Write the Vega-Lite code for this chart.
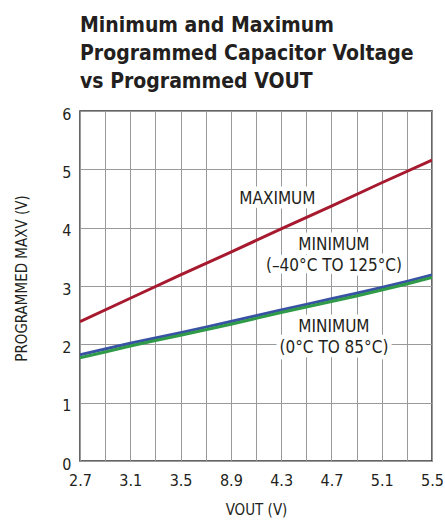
{
  "$schema": "https://vega.github.io/schema/vega-lite/v6.json",
  "autosize": "none",
  "width": 352,
  "height": 350,
  "padding": {"left": 80, "top": 111, "right": 13, "bottom": 62},
  "background": "white",
  "title": {
    "text": ["Minimum and Maximum", "Programmed Capacitor Voltage", "vs Programmed VOUT"],
    "font": "DejaVu Sans Condensed",
    "fontWeight": "bold",
    "fontSize": 21,
    "lineHeight": 28,
    "anchor": "start",
    "frame": "group",
    "color": "#231f20",
    "offset": 14
  },
  "config": {
    "view": {"stroke": "#333333", "strokeWidth": 1.5},
    "axis": {
      "labelFont": "DejaVu Sans Condensed",
      "titleFont": "DejaVu Sans Condensed",
      "labelColor": "#231f20",
      "titleColor": "#231f20",
      "labelFontSize": 16,
      "titleFontSize": 15,
      "titleFontWeight": "normal",
      "ticks": false,
      "domain": false,
      "gridColor": "#999999",
      "gridOpacity": 1,
      "gridWidth": 1
    }
  },
  "datasets": {
    "curves": [
      {"vout": 2.7, "v": 2.39, "series": "MAX"},
      {"vout": 3.1, "v": 2.79, "series": "MAX"},
      {"vout": 3.5, "v": 3.19, "series": "MAX"},
      {"vout": 3.9, "v": 3.58, "series": "MAX"},
      {"vout": 4.3, "v": 3.98, "series": "MAX"},
      {"vout": 4.7, "v": 4.37, "series": "MAX"},
      {"vout": 5.1, "v": 4.77, "series": "MAX"},
      {"vout": 5.5, "v": 5.16, "series": "MAX"},
      {"vout": 2.7, "v": 1.82, "series": "MIN -40C TO 125C"},
      {"vout": 2.9, "v": 1.92, "series": "MIN -40C TO 125C"},
      {"vout": 3.1, "v": 2.02, "series": "MIN -40C TO 125C"},
      {"vout": 3.3, "v": 2.11, "series": "MIN -40C TO 125C"},
      {"vout": 3.5, "v": 2.2, "series": "MIN -40C TO 125C"},
      {"vout": 3.7, "v": 2.295, "series": "MIN -40C TO 125C"},
      {"vout": 3.9, "v": 2.39, "series": "MIN -40C TO 125C"},
      {"vout": 4.1, "v": 2.49, "series": "MIN -40C TO 125C"},
      {"vout": 4.3, "v": 2.59, "series": "MIN -40C TO 125C"},
      {"vout": 4.5, "v": 2.685, "series": "MIN -40C TO 125C"},
      {"vout": 4.7, "v": 2.78, "series": "MIN -40C TO 125C"},
      {"vout": 4.9, "v": 2.875, "series": "MIN -40C TO 125C"},
      {"vout": 5.1, "v": 2.975, "series": "MIN -40C TO 125C"},
      {"vout": 5.3, "v": 3.08, "series": "MIN -40C TO 125C"},
      {"vout": 5.5, "v": 3.19, "series": "MIN -40C TO 125C"},
      {"vout": 2.7, "v": 1.77, "series": "MIN 0C TO 85C"},
      {"vout": 2.9, "v": 1.87, "series": "MIN 0C TO 85C"},
      {"vout": 3.1, "v": 1.97, "series": "MIN 0C TO 85C"},
      {"vout": 3.3, "v": 2.065, "series": "MIN 0C TO 85C"},
      {"vout": 3.5, "v": 2.155, "series": "MIN 0C TO 85C"},
      {"vout": 3.7, "v": 2.25, "series": "MIN 0C TO 85C"},
      {"vout": 3.9, "v": 2.345, "series": "MIN 0C TO 85C"},
      {"vout": 4.1, "v": 2.445, "series": "MIN 0C TO 85C"},
      {"vout": 4.3, "v": 2.545, "series": "MIN 0C TO 85C"},
      {"vout": 4.5, "v": 2.64, "series": "MIN 0C TO 85C"},
      {"vout": 4.7, "v": 2.735, "series": "MIN 0C TO 85C"},
      {"vout": 4.9, "v": 2.83, "series": "MIN 0C TO 85C"},
      {"vout": 5.1, "v": 2.93, "series": "MIN 0C TO 85C"},
      {"vout": 5.3, "v": 3.035, "series": "MIN 0C TO 85C"},
      {"vout": 5.5, "v": 3.145, "series": "MIN 0C TO 85C"}
    ],
    "labels": [
      {"vout": 4.27, "v": 4.5, "label": "MAXIMUM"},
      {"vout": 4.72, "v": 3.71, "label": "MINIMUM"},
      {"vout": 4.72, "v": 3.34, "label": "(–40°C TO 125°C)"},
      {"vout": 4.72, "v": 2.29, "label": "MINIMUM"},
      {"vout": 4.72, "v": 1.94, "label": "(0°C TO 85°C)"}
    ]
  },
  "encoding": {
    "x": {
      "field": "vout",
      "type": "quantitative",
      "scale": {"domain": [2.7, 5.5], "nice": false, "zero": false},
      "axis": {
        "title": "VOUT (V)",
        "values": [2.7, 2.9, 3.1, 3.3, 3.5, 3.7, 3.9, 4.1, 4.3, 4.5, 4.7, 4.9, 5.1, 5.3, 5.5],
        "labelExpr": "round((datum.value - 2.7) / 0.2) % 2 == 1 ? '' : (abs(datum.value - 3.9) < 0.01 ? '8.9' : format(datum.value, '.1f'))",
        "labelPadding": 11,
        "labelFlush": false,
        "labelOverlap": false,
        "titlePadding": 14
      }
    },
    "y": {
      "field": "v",
      "type": "quantitative",
      "scale": {"domain": [0, 6], "nice": false},
      "axis": {
        "title": "PROGRAMMED MAXV (V)",
        "values": [0, 1, 2, 3, 4, 5, 6],
        "labelPadding": 9,
        "labelOffset": 3,
        "labelFlush": false,
        "titlePadding": 32,
        "titleY": 167
      }
    }
  },
  "layer": [
    {
      "data": {"name": "curves"},
      "mark": {"type": "line", "strokeWidth": 3, "clip": true},
      "encoding": {
        "color": {
          "field": "series",
          "type": "nominal",
          "scale": {
            "domain": ["MAX", "MIN -40C TO 125C", "MIN 0C TO 85C"],
            "range": ["#a6192e", "#3953a4", "#2f9a48"]
          },
          "legend": null
        },
        "order": {"field": "series"}
      }
    },
    {
      "data": {"name": "labels"},
      "mark": {
        "type": "text",
        "font": "DejaVu Sans Condensed",
        "fontSize": 17,
        "stroke": "white",
        "strokeWidth": 9,
        "strokeJoin": "round",
        "fill": "white",
        "baseline": "middle",
        "align": "center"
      },
      "encoding": {"text": {"field": "label"}}
    },
    {
      "data": {"name": "labels"},
      "mark": {
        "type": "text",
        "font": "DejaVu Sans Condensed",
        "fontSize": 17,
        "fill": "#231f20",
        "baseline": "middle",
        "align": "center"
      },
      "encoding": {"text": {"field": "label"}}
    }
  ]
}
